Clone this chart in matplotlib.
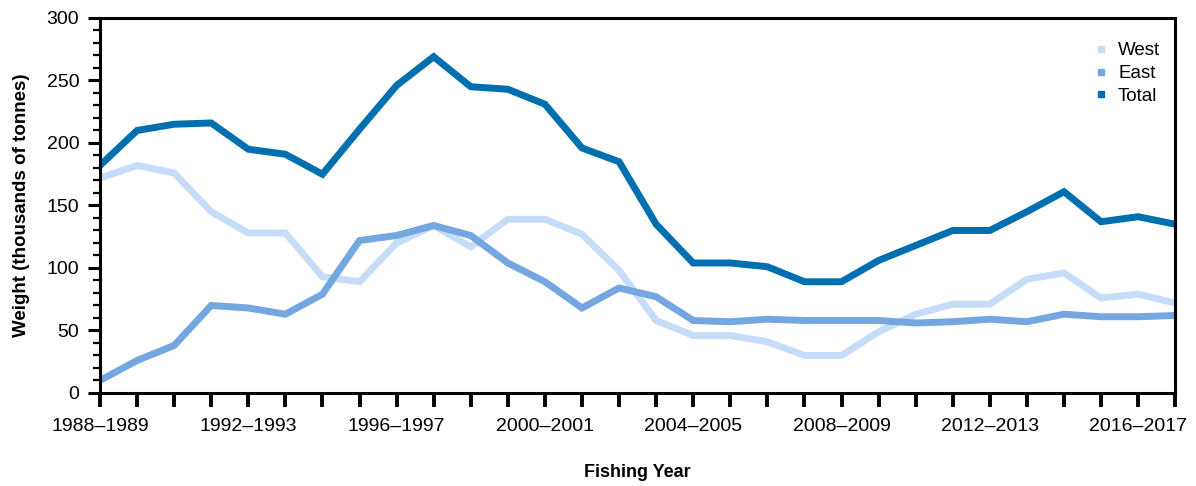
import numpy as np
import matplotlib
matplotlib.use("Agg")
import matplotlib.pyplot as plt
from matplotlib.lines import Line2D
from matplotlib.ticker import MultipleLocator

plt.rcParams['font.family'] = ['Liberation Sans', 'DejaVu Sans']

# fishing year start, 1988 -> "1988–1989"
years = np.arange(1988, 2018)
west = [172, 182, 176, 145, 128, 128, 93, 89, 120, 134, 117, 139, 139, 127, 98,
        58, 46, 46, 41, 30, 30, 49, 63, 71, 71, 91, 96, 76, 79, 72]
east = [10, 26, 38, 70, 68, 63, 79, 122, 126, 134, 126, 104, 89, 68, 84,
        77, 58, 57, 59, 58, 58, 58, 56, 57, 59, 57, 63, 61, 61, 62]
total = [182, 210, 215, 216, 195, 191, 175, 211, 246, 269, 245, 243, 231, 196, 185,
         135, 104, 104, 101, 89, 89, 106, 118, 130, 130, 145, 161, 137, 141, 135]

series = [("West", west, "#c6ddfa"), ("East", east, "#74a7e0"), ("Total", total, "#006fb0")]

fig = plt.figure(figsize=(11.96, 4.86), dpi=100)
ax = fig.add_axes([0.0836, 0.1914, 0.899, 0.7716])

for name, vals, col in series:
    ax.plot(years, vals, color=col, lw=5, solid_joinstyle="miter")

ax.set_xlim(1988, 2017)
ax.set_ylim(0, 300)
ax.xaxis.set_minor_locator(MultipleLocator(1))
ax.yaxis.set_major_locator(MultipleLocator(50))
ax.yaxis.set_minor_locator(MultipleLocator(10))
ax.set_xticks(years[::4])
ax.set_xticklabels([f"{y}\u2013{y + 1}" for y in years[::4]])

ax.tick_params(axis="x", which="both", direction="out", length=10, width=2.8, labelsize=14, pad=8)
ax.tick_params(axis="y", which="major", direction="out", length=9, width=2.2, labelsize=14, pad=6)
ax.tick_params(axis="y", which="minor", direction="out", length=5, width=1.6)
for s in ax.spines.values():
    s.set_linewidth(2.2)

ax.set_ylabel("Weight (thousands of tonnes)", fontsize=13.5, fontweight="bold")
ax.yaxis.set_label_coords(-0.065, 0.5)
ax.set_xlabel("Fishing Year", fontsize=13, fontweight="bold")
ax.xaxis.set_label_coords(0.5, -0.19)

handles = [Line2D([], [], marker="s", ls="none", color=c, markersize=5) for _, _, c in series]
ax.legend(handles, [n for n, _, _ in series], loc="upper right", bbox_to_anchor=(1.0, 0.975),
          frameon=False, fontsize=13.5, handletextpad=0.5, labelspacing=0.3, borderaxespad=0.5,
          handlelength=0.8, borderpad=0.3)

fig.savefig("out.png", dpi=100)
